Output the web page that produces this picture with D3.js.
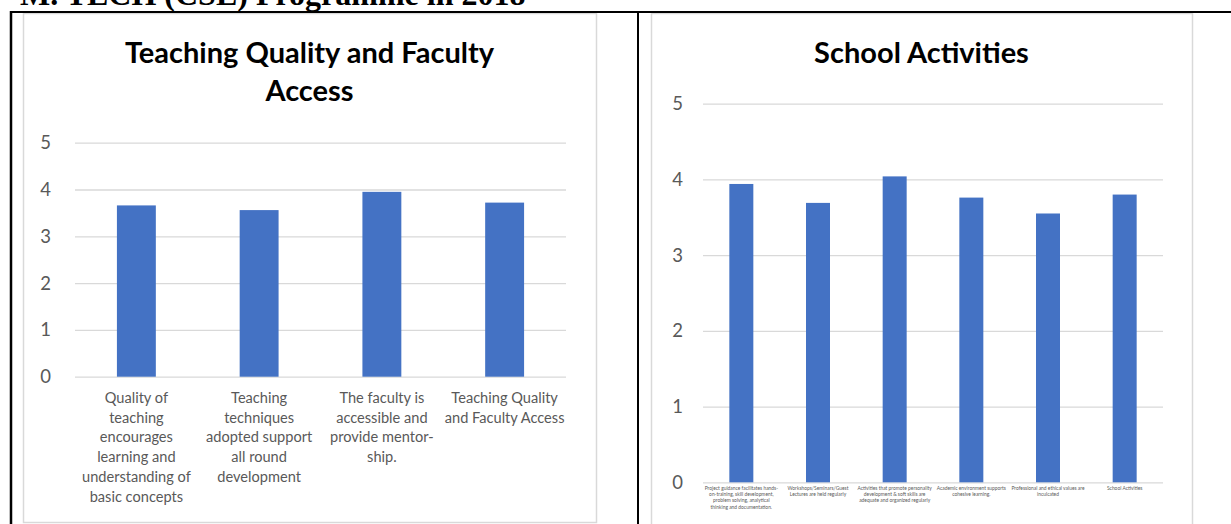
<!DOCTYPE html>
<html>
<head>
<meta charset="utf-8">
<script src="https://cdn.jsdelivr.net/npm/d3@7"></script>
<style>
  html, body { margin: 0; padding: 0; background: #ffffff; overflow: hidden; }
  svg { display: block; }
</style>
</head>
<body>
<svg id="page" width="1231" height="524"></svg>
<script>
// ---- Data ----
const pageHeading = "M. TECH (CSE) Programme in 2018";

const teachingTitle = ["Teaching Quality and Faculty", "Access"];
const teachingCategories = [
  "Quality of\nteaching\nencourages\nlearning and\nunderstanding of\nbasic concepts",
  "Teaching\ntechniques\nadopted support\nall round\ndevelopment",
  "The faculty is\naccessible and\nprovide mentor-\nship.",
  "Teaching Quality\nand Faculty Access"
];
const teachingValues = [3.66, 3.56, 3.95, 3.72];

const activityTitle = ["School Activities"];
const activityCategories = [
  "Project guidance facilitates hands-\non-training, skill development,\nproblem solving, analytical\nthinking and documentation.",
  "Workshops/Seminars/Guest\nLectures are held regularly",
  "Activities that promote personality\ndevelopment & soft skills are\nadequate and organized regularly",
  "Academic environment supports\ncohesive learning.",
  "Professional and ethical values are\ninculcated",
  "School Activities"
];
const activityValues = [3.94, 3.69, 4.04, 3.76, 3.55, 3.80];

const yTicks = [0, 1, 2, 3, 4, 5];

// ---- Drawing ----
const svg = d3.select("#page");
const FONT = "Lato, 'Open Sans', sans-serif";
const BAR = "#4472C4";
const GRID = "#d9d9d9";
const TXT = "#595959";

// document heading (cut by top edge, as in the source page)
svg.append("text")
  .attr("x", 20).attr("y", 5)
  .attr("font-family", "'Liberation Serif', 'Times New Roman', serif")
  .attr("font-weight", "bold").attr("font-size", 32)
  .attr("fill", "#000")
  .text(pageHeading);

function chart(cfg) {
  const g = svg.append("g");
  g.append("rect")
    .attr("x", cfg.box[0] + 0.5).attr("y", cfg.box[1] + 0.5)
    .attr("width", cfg.box[2] - cfg.box[0]).attr("height", cfg.box[3] - cfg.box[1])
    .attr("fill", "#fff").attr("stroke", GRID).attr("stroke-width", 1.5);

  const cx = (cfg.box[0] + cfg.box[2]) / 2;
  g.append("g").selectAll("text").data(cfg.title).join("text")
    .attr("x", cx).attr("y", (d, i) => cfg.titleY + i * 38)
    .attr("text-anchor", "middle")
    .attr("font-family", FONT).attr("font-weight", "bold")
    .attr("font-size", cfg.titleSize).attr("fill", "#000")
    .text(d => d);

  const x = d3.scaleBand().domain(cfg.categories)
    .range(cfg.xRange).paddingInner(cfg.pad).paddingOuter(cfg.pad / 2);
  const y = d3.scaleLinear().domain([0, 5]).range(cfg.yRange);

  const w = cfg.xRange[1] - cfg.xRange[0];
  const yAxis = d3.axisLeft(y).tickValues(yTicks).tickFormat(d3.format("d"))
    .tickSizeInner(-w).tickSizeOuter(0).tickPadding(cfg.tickPad);
  const ax = g.append("g")
    .attr("transform", `translate(${cfg.xRange[0]},0)`)
    .call(yAxis);
  ax.select(".domain").remove();
  ax.selectAll(".tick line").attr("stroke", GRID).attr("stroke-width", 1.3);
  ax.selectAll(".tick text")
    .attr("font-family", FONT).attr("font-size", cfg.tickSize)
    .attr("fill", TXT);

  g.append("g").selectAll("rect").data(cfg.values).join("rect")
    .attr("x", (d, i) => x(cfg.categories[i]))
    .attr("width", x.bandwidth())
    .attr("y", d => y(d))
    .attr("height", d => y(0) - y(d))
    .attr("fill", BAR);

  const lbl = g.append("g").selectAll("text").data(cfg.categories).join("text")
    .attr("text-anchor", "middle")
    .attr("font-family", FONT).attr("font-size", cfg.labelSize)
    .attr("fill", TXT);
  lbl.each(function (d) {
    const t = d3.select(this);
    const cxb = x(d) + x.bandwidth() / 2;
    d.split("\n").forEach((line, i) => {
      t.append("tspan").attr("x", cxb)
        .attr("y", cfg.labelY + i * cfg.labelLH)
        .text(line);
    });
  });
}

chart({
  box: [23, 13, 596, 522],
  title: teachingTitle, titleY: 63, titleSize: 29,
  categories: teachingCategories, values: teachingValues,
  xRange: [75, 566], yRange: [376.7, 142.7], pad: 0.683,
  tickPad: 24, tickSize: 18.5,
  labelY: 403, labelLH: 19.7, labelSize: 14.6
});

chart({
  box: [651, 13, 1192, 530],
  title: activityTitle, titleY: 63, titleSize: 29,
  categories: activityCategories, values: activityValues,
  xRange: [703, 1163], yRange: [482.3, 103.7], pad: 0.687,
  tickPad: 20, tickSize: 18.5,
  labelY: 490, labelLH: 6.2, labelSize: 4.9
});

svg.append("line").attr("x1", 10).attr("x2", 1231).attr("y1", 12).attr("y2", 12)
  .attr("stroke", "#000").attr("stroke-width", 2);
svg.append("line").attr("x1", 11).attr("x2", 11).attr("y1", 11).attr("y2", 524)
  .attr("stroke", "#000").attr("stroke-width", 2.5);
svg.append("line").attr("x1", 638).attr("x2", 638).attr("y1", 11).attr("y2", 524)
  .attr("stroke", "#000").attr("stroke-width", 2);
</script>
</body>
</html>
